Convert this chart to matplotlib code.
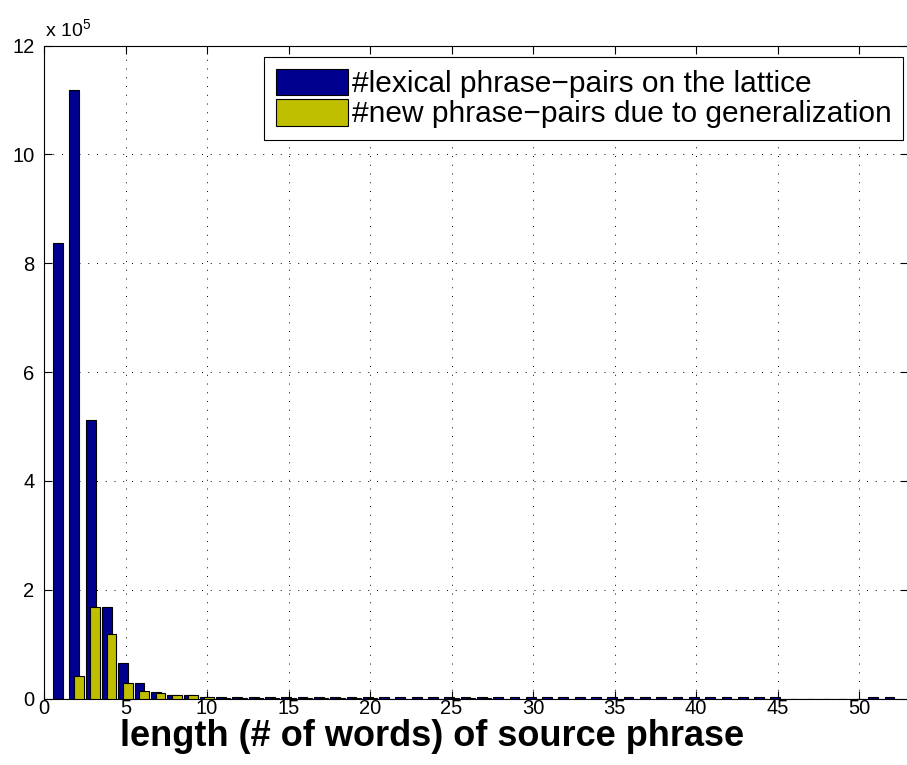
import matplotlib.pyplot as plt
import numpy as np
from matplotlib.ticker import FuncFormatter, MultipleLocator

plt.rcParams['font.family'] = ['Liberation Sans', 'DejaVu Sans']
plt.rcParams['mathtext.fontset'] = 'custom'
plt.rcParams['mathtext.rm'] = 'Liberation Sans'

# phrase length in words
lengths = np.arange(1, 53)

# number of lexical phrase pairs found on the lattice, per source length
lexical_pairs = [
    838000, 1118000, 512000, 168000, 66000, 29000, 13000, 7000, 6500, 3500,
    3000, 3000, 3000, 3000, 3000, 3000, 3000, 3000, 3000, 3000,
    2500, 2500, 2500, 2500, 2500, 2500, 2500, 2500, 2500, 2500,
    2500, 2500, 2500, 2500, 2500, 2500, 2500, 2500, 2500, 2500,
    2500, 2500, 2500, 2500, 2500, 0, 0, 0, 0, 0,
    2500, 2500,
]

# number of extra phrase pairs produced by generalization
new_pairs = [
    0, 42000, 168000, 119000, 28000, 14000, 10000, 6000, 6000, 2500,
    2000, 2000, 2000, 2000, 2000, 2000, 2000, 500, 2000, 2000,
    0, 0, 0, 0, 2000, 2000, 2000, 0, 0, 0,
    0, 0, 0, 0, 0, 0, 0, 0, 0, 0,
    0, 0, 0, 0, 0, 0, 0, 0, 0, 0,
    0, 0,
]

fig = plt.figure(figsize=(9.07, 7.65), dpi=100)
ax = fig.add_axes([44 / 907, 1 - 698.7 / 765, 864 / 907, 653.2 / 765])

offset = 0.14
width = 0.6
ax.bar(lengths - offset, lexical_pairs, width=width, color='#00008F',
       edgecolor='black', linewidth=0.8, label='#lexical phrase\u2212pairs on the lattice', zorder=2)
ax.bar(lengths + offset, new_pairs, width=width, color='#BFBF00',
       edgecolor='black', linewidth=0.8, label='#new phrase\u2212pairs due to generalization', zorder=3)

ax.set_xlim(0, 53)
ax.set_ylim(0, 12e5)
ax.xaxis.set_major_locator(MultipleLocator(5))
ax.yaxis.set_major_locator(MultipleLocator(2e5))
ax.yaxis.set_major_formatter(FuncFormatter(lambda v, _: f'{v / 1e5:g}'))

ax.grid(True, linestyle=(0, (1, 8)), color='black', linewidth=0.7, zorder=1)
ax.set_axisbelow(True)
ax.tick_params(direction='in', top=True, right=True, length=6, width=0.8, labelsize=14.5)
ax.tick_params(axis='y', pad=7)
ax.tick_params(axis='x', pad=0.5)
for s in ax.spines.values():
    s.set_linewidth(0.8)

ax.set_xlabel('length (# of words) of source phrase', fontsize=26, fontweight='bold', va='baseline')
ax.xaxis.set_label_coords((432.5 - 44) / 864, (698.7 - 746) / 653.2)

fig.text(45 / 907, 1 - 37 / 765, 'x 10$^5$', fontsize=14, ha='left', va='baseline')

leg = ax.legend(loc='upper right', bbox_to_anchor=(0.994, 0.982), fontsize=21.5,
                fancybox=False, framealpha=1, edgecolor='black', borderaxespad=0,
                handlelength=2.42, handleheight=1.0, handletextpad=0.13,
                borderpad=0.38, labelspacing=0.02)
leg.get_frame().set_linewidth(0.8)

fig.savefig('out.png', dpi=100)
